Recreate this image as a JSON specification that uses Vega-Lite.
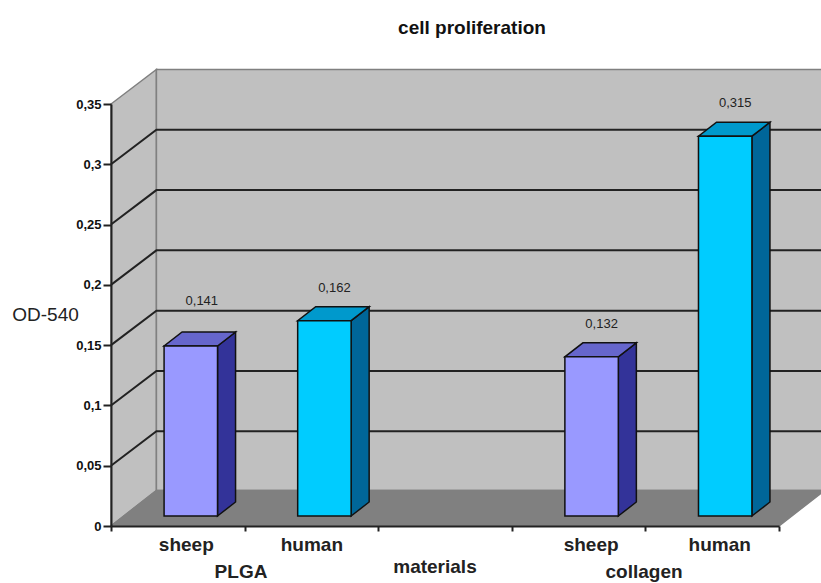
{"$schema":"https://vega.github.io/schema/vega-lite/v6.json","width":668,"height":422,"autosize":{"type":"none"},"padding":{"left":111,"top":104,"right":42,"bottom":57},"background":"white","title":{"text":"cell proliferation","anchor":"middle","dx":27,"offset":29,"fontSize":19,"fontWeight":"bold","font":"Liberation Sans","color":"#111111"},"config":{"view":{"stroke":null},"font":"Liberation Sans"},"datasets":{"bars":[{"slot":"PLGA sheep","material":"PLGA","source":"sheep","value":0.141,"label":"0,141"},{"slot":"PLGA human","material":"PLGA","source":"human","value":0.162,"label":"0,162"},{"slot":"collagen sheep","material":"collagen","source":"sheep","value":0.132,"label":"0,132"},{"slot":"collagen human","material":"collagen","source":"human","value":0.315,"label":"0,315"}],"walls":[{"face":"side wall","u":0,"low":0,"high":0.35},{"face":"side wall","u":0.34,"low":0.0294,"high":0.3786},{"face":"back wall","u":0.34,"low":0.0294,"high":0.3786},{"face":"back wall","u":5.34,"low":0.0294,"high":0.3786},{"face":"floor","u":0,"low":0,"high":0},{"face":"floor","u":0.34,"low":0,"high":0.0294},{"face":"floor","u":5,"low":0,"high":0.0294},{"face":"floor","u":5.34,"low":0.0294,"high":0.0294}],"grid":[{"tick":0.05,"u":0,"level":0.05},{"tick":0.05,"u":0.34,"level":0.0786},{"tick":0.05,"u":5.34,"level":0.0786},{"tick":0.1,"u":0,"level":0.1},{"tick":0.1,"u":0.34,"level":0.1286},{"tick":0.1,"u":5.34,"level":0.1286},{"tick":0.15,"u":0,"level":0.15},{"tick":0.15,"u":0.34,"level":0.1786},{"tick":0.15,"u":5.34,"level":0.1786},{"tick":0.2,"u":0,"level":0.2},{"tick":0.2,"u":0.34,"level":0.2286},{"tick":0.2,"u":5.34,"level":0.2286},{"tick":0.25,"u":0,"level":0.25},{"tick":0.25,"u":0.34,"level":0.2786},{"tick":0.25,"u":5.34,"level":0.2786},{"tick":0.3,"u":0,"level":0.3},{"tick":0.3,"u":0.34,"level":0.3286},{"tick":0.3,"u":5.34,"level":0.3286}],"faces":[{"face":"b1 side","tone":"sheep side","u":0.7,"low":0.0083,"high":0.1493},{"face":"b1 side","tone":"sheep side","u":0.835,"low":0.0199,"high":0.1609},{"face":"b1 top","tone":"sheep top","u":0.3,"low":0.1493,"high":0.1493},{"face":"b1 top","tone":"sheep top","u":0.435,"low":0.1493,"high":0.1609},{"face":"b1 top","tone":"sheep top","u":0.7,"low":0.1493,"high":0.1609},{"face":"b1 top","tone":"sheep top","u":0.835,"low":0.1609,"high":0.1609},{"face":"b2 side","tone":"human side","u":1.7,"low":0.0083,"high":0.1703},{"face":"b2 side","tone":"human side","u":1.835,"low":0.0199,"high":0.1819},{"face":"b2 top","tone":"human top","u":1.3,"low":0.1703,"high":0.1703},{"face":"b2 top","tone":"human top","u":1.435,"low":0.1703,"high":0.1819},{"face":"b2 top","tone":"human top","u":1.7,"low":0.1703,"high":0.1819},{"face":"b2 top","tone":"human top","u":1.835,"low":0.1819,"high":0.1819},{"face":"b3 side","tone":"sheep side","u":3.7,"low":0.0083,"high":0.1403},{"face":"b3 side","tone":"sheep side","u":3.835,"low":0.0199,"high":0.1519},{"face":"b3 top","tone":"sheep top","u":3.3,"low":0.1403,"high":0.1403},{"face":"b3 top","tone":"sheep top","u":3.435,"low":0.1403,"high":0.1519},{"face":"b3 top","tone":"sheep top","u":3.7,"low":0.1403,"high":0.1519},{"face":"b3 top","tone":"sheep top","u":3.835,"low":0.1519,"high":0.1519},{"face":"b4 side","tone":"human side","u":4.7,"low":0.0083,"high":0.3233},{"face":"b4 side","tone":"human side","u":4.835,"low":0.0199,"high":0.3349},{"face":"b4 top","tone":"human top","u":4.3,"low":0.3233,"high":0.3233},{"face":"b4 top","tone":"human top","u":4.435,"low":0.3233,"high":0.3349},{"face":"b4 top","tone":"human top","u":4.7,"low":0.3233,"high":0.3349},{"face":"b4 top","tone":"human top","u":4.835,"low":0.3349,"high":0.3349}],"names":[{"text":"PLGA","u":0.973,"v":-0.038},{"text":"materials","u":2.425,"v":-0.034},{"text":"collagen","u":3.99,"v":-0.0385}]},"layer":[{"data":{"name":"walls"},"mark":{"type":"area","stroke":"#808080","strokeWidth":1.5,"clip":false},"encoding":{"x":{"field":"u","type":"quantitative","scale":{"domain":[0,5]},"axis":null},"y":{"field":"low","type":"quantitative","scale":{"domain":[0,0.35],"nice":false},"axis":{"values":[0,0.05,0.1,0.15,0.2,0.25,0.3,0.35],"grid":false,"zindex":1,"domainColor":"#222222","domainWidth":2,"tickColor":"#222222","tickWidth":2,"tickSize":8,"labelPadding":2,"labelFont":"Liberation Sans","labelFontSize":13,"labelFontWeight":"bold","labelColor":"#111111","labelExpr":"replace(format(datum.value,'.2~f'),'.',',')","title":"OD-540","titleAngle":0,"titleX":-66,"titleY":210,"titleAlign":"center","titleBaseline":"middle","titleFont":"Liberation Sans","titleFontSize":19,"titleFontWeight":"normal","titleColor":"#222222"}},"y2":{"field":"high"},"color":{"field":"face","type":"nominal","scale":{"domain":["side wall","back wall","floor"],"range":["#C0C0C0","#C0C0C0","#808080"]},"legend":null}}},{"data":{"name":"grid"},"mark":{"type":"line","color":"#222222","strokeWidth":2},"encoding":{"x":{"field":"u","type":"quantitative","scale":{"domain":[0,5]},"axis":null},"y":{"field":"level","type":"quantitative"},"detail":{"field":"tick"}}},{"data":{"name":"faces"},"mark":{"type":"area","xOffset":13,"stroke":"#111111","strokeWidth":1.5},"encoding":{"x":{"field":"u","type":"quantitative","scale":{"domain":[0,5]},"axis":null},"y":{"field":"low","type":"quantitative"},"y2":{"field":"high"},"detail":{"field":"face"},"color":{"field":"tone","type":"nominal","scale":{"domain":["sheep side","sheep top","human side","human top"],"range":["#333399","#6666CC","#006699","#0099CC"]},"legend":null}}},{"data":{"name":"bars"},"mark":{"type":"bar","xOffset":13,"yOffset":-10,"stroke":"#111111","strokeWidth":1.5},"encoding":{"x":{"field":"slot","type":"nominal","scale":{"domain":["PLGA sheep","PLGA human","gap","collagen sheep","collagen human"],"paddingInner":0.6,"paddingOuter":0.3},"axis":null},"y":{"field":"value","type":"quantitative"},"color":{"field":"source","type":"nominal","scale":{"domain":["sheep","human"],"range":["#9999FF","#00CCFF"]},"legend":null}}},{"data":{"name":"bars"},"mark":{"type":"bar","opacity":0},"encoding":{"x":{"field":"slot","type":"nominal","scale":{"domain":["PLGA sheep","PLGA human","gap","collagen sheep","collagen human"],"padding":0},"axis":{"title":null,"labelAngle":0,"zindex":1,"tickBand":"extent","tickSize":5,"tickWidth":2,"tickColor":"#222222","domainColor":"#222222","domainWidth":2,"labelOffset":{"condition":[{"test":"datum.value=='PLGA human'","value":0},{"test":"datum.value=='collagen sheep'","value":12},{"test":"datum.value=='collagen human'","value":7}],"value":8},"labelPadding":4,"labelFont":"Liberation Sans","labelFontSize":19,"labelFontWeight":"bold","labelColor":"#222222","labelExpr":"datum.value=='gap' ? '' : split(datum.value,' ')[1]"}},"y":{"field":"value","type":"quantitative"}}},{"data":{"name":"bars"},"transform":[{"filter":"datum.value!=0.141"}],"mark":{"type":"text","dx":23,"dy":-43,"font":"Liberation Sans","fontSize":13,"color":"#222222"},"encoding":{"x":{"field":"slot","type":"nominal","scale":{"domain":["PLGA sheep","PLGA human","gap","collagen sheep","collagen human"],"paddingInner":0.6,"paddingOuter":0.3},"axis":null},"y":{"field":"value","type":"quantitative"},"text":{"field":"label"}}},{"data":{"name":"bars"},"transform":[{"filter":"datum.value==0.141"}],"mark":{"type":"text","dx":24,"dy":-55,"font":"Liberation Sans","fontSize":13,"color":"#222222"},"encoding":{"x":{"field":"slot","type":"nominal","scale":{"domain":["PLGA sheep","PLGA human","gap","collagen sheep","collagen human"],"paddingInner":0.6,"paddingOuter":0.3},"axis":null},"y":{"field":"value","type":"quantitative"},"text":{"field":"label"}}},{"data":{"name":"names"},"mark":{"type":"text","font":"Liberation Sans","fontSize":19,"fontWeight":"bold","color":"#222222"},"encoding":{"x":{"field":"u","type":"quantitative","scale":{"domain":[0,5]},"axis":null},"y":{"field":"v","type":"quantitative"},"text":{"field":"text"}}}],"resolve":{"scale":{"x":"independent","color":"independent"}}}
